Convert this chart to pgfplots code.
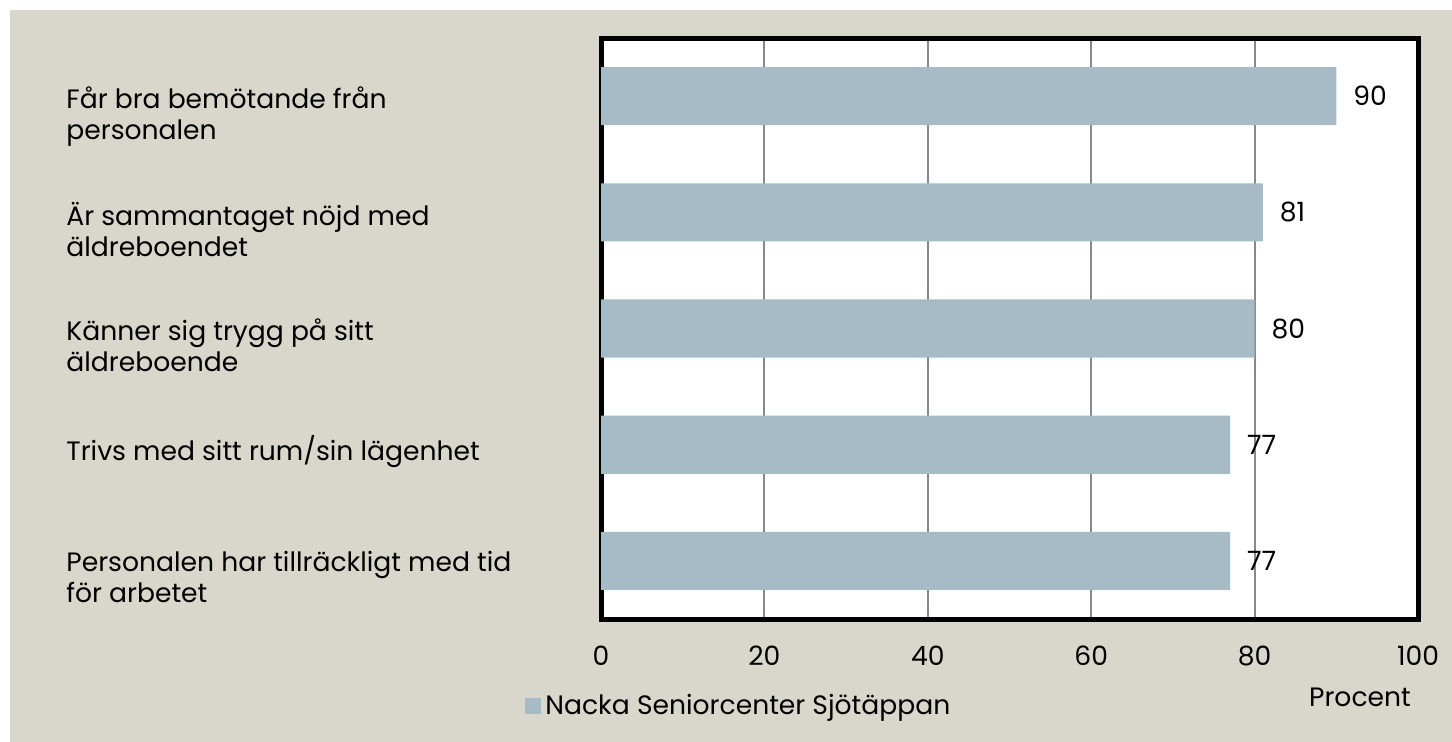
\documentclass[border=0pt]{standalone}
\usepackage{pgfplots}
\pgfplotsset{compat=1.18}
\usepackage{fontspec}
\setmainfont{Poppins}
\definecolor{bg}{RGB}{217,215,203}
\definecolor{barcol}{RGB}{167,187,198}
\definecolor{gridc}{RGB}{136,136,136}
\begin{document}
\begin{tikzpicture}[font=\fontsize{13.3bp}{15.5bp}\selectfont]
\useasboundingbox (0,0) rectangle (726bp,371bp);
\fill[white] (0,0) rectangle (726bp,371bp);
\fill[bg] (5bp,0) rectangle (726bp,366bp);
\begin{axis}[
  at={(300.5bp,61.5bp)}, anchor=south west,
  scale only axis, width=408.5bp, height=290.5bp,
  xbar, bar width=0.5, bar shift=0pt,
  xmin=0, xmax=100, ymin=0.5, ymax=5.5, y dir=reverse,
  axis background/.style={fill=white},
  axis line style={line width=2.5bp, black},
  xtick={0,20,40,60,80,100},
  ytick={1,2,3,4,5},
  yticklabels={{Får bra bemötande från\\personalen},{Är sammantaget nöjd med\\äldreboendet},{Känner sig trygg på sitt\\äldreboende},{Trivs med sitt rum/sin lägenhet},{Personalen har tillräckligt med tid\\för arbetet}},
  yticklabel style={anchor=north west, align=left, inner sep=0pt, xshift=-267.5bp, yshift=5bp},
  xticklabel style={yshift=-10bp},
  /pgf/number format/assume math mode=true,
  major tick length=0pt,
  xmajorgrids, major grid style={gridc, line width=1bp},
  xlabel={Procent},
  xlabel style={at={(axis description cs:0.929,-0.134)}, anchor=center},
  nodes near coords, nodes near coords align={horizontal},
  every node near coord/.append style={black, anchor=west, xshift=5bp, /pgf/number format/assume math mode=true},
  legend style={at={(axis description cs:-0.093,-0.15)}, anchor=west, draw=none, fill=none, inner sep=0pt,
    legend cell align=left},
  legend image code/.code={\fill[barcol] (0bp,-4bp) rectangle (8bp,4bp);},
]
\addplot[fill=barcol, draw=none] coordinates {(90,1) (81,2) (80,3) (77,4) (77,5)};
\addlegendentry{Nacka Seniorcenter Sjötäppan}
\end{axis}
\end{tikzpicture}
\end{document}
